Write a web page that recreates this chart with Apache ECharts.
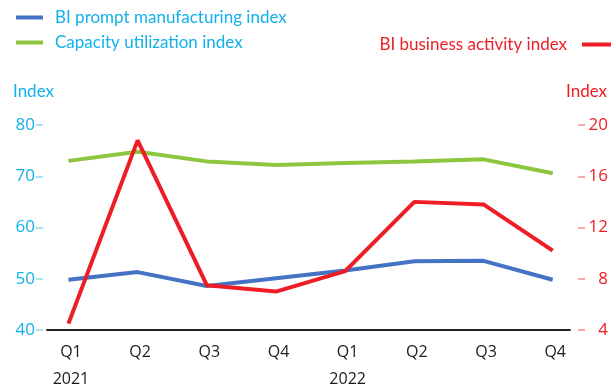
<!DOCTYPE html>
<html><head><meta charset="utf-8">
<script src="https://cdn.jsdelivr.net/npm/echarts@6/dist/echarts.min.js"></script>
<style>html,body{margin:0;padding:0;background:#fff}#c{width:616px;height:387px}</style>
</head><body><div id="c"></div>
<script>
const quarters = ['Q1','Q2','Q3','Q4','Q1','Q2','Q3','Q4'];
const years = {0:'2021', 4:'2022'};
const promptMfg = [49.8, 51.3, 48.6, 50.1, 51.6, 53.4, 53.5, 49.8];
const capacityUtil = [73.0, 74.8, 72.9, 72.2, 72.6, 72.9, 73.3, 70.6];
const businessActivity = [4.5, 18.8, 7.5, 7.0, 8.6, 14.0, 13.8, 10.2];
const leftTicks = [40, 50, 60, 70, 80];
const rightTicks = [4, 8, 12, 16, 20];

const CYAN = '#12b1ea', RED = '#ee1d25', BLUE = '#4472c4', GREEN = '#8cc63f';
const pts = arr => arr.map((v, i) => [i, v]);
const chart = echarts.init(document.getElementById('c'), null, {renderer: 'canvas'});
chart.setOption({
  animation: false,
  grid: {left: 47, right: 46, top: 125, bottom: 57, containLabel: false, outerBoundsMode: 'none'},
  legend: [
    {data: ['BI prompt manufacturing index', 'Capacity utilization index'], orient: 'vertical',
     left: 11, top: 4, itemWidth: 27, itemHeight: 4, itemGap: 8, icon: 'rect',
     textStyle: {color: CYAN, fontFamily: 'Lato', fontSize: 17, padding: [0,0,0,7]}},
    {data: ['BI business activity index'], left: 'right', right: 7, top: 31, align: 'right',
     itemWidth: 29, itemHeight: 4, icon: 'rect',
     textStyle: {color: RED, fontFamily: 'Lato', fontSize: 17, padding: [0,10,0,0]}}
  ],
  graphic: [
    {type: 'text', left: 13, top: 83, style: {text: 'Index', fill: CYAN, font: '17px Lato'}},
    {type: 'text', right: 9, top: 83, style: {text: 'Index', fill: RED, font: '17px Lato'}}
  ],
  xAxis: {
    type: 'value', min: -0.31, max: 7.25,
    axisLine: {show: true, onZero: false, lineStyle: {color: '#222', width: 2}},
    axisTick: {show: false}, splitLine: {show: false},
    axisLabel: {
      customValues: quarters.map((q, i) => i),
      formatter: v => quarters[v] + (years[v] ? '\n' + years[v] : ''),
      color: '#1a1a1a', fontFamily: 'Open Sans', fontSize: 16, lineHeight: 27, margin: 9,
      padding: [0, 0, 0, 5]
    }
  },
  yAxis: [
    {type: 'value', min: leftTicks[0], max: leftTicks[leftTicks.length-1], interval: 10, offset: 4,
     axisLine: {show: false, onZero: false}, splitLine: {show: false},
     axisTick: {show: true, inside: false, length: 7, lineStyle: {color: '#8fd6f4', width: 1.5}},
     axisLabel: {color: CYAN, fontFamily: 'Open Sans', fontSize: 17, margin: 8, padding: [0, 0, 6, 0]}},
    {type: 'value', min: rightTicks[0], max: rightTicks[rightTicks.length-1], interval: 4, offset: 8,
     position: 'right',
     axisLine: {show: false, onZero: false}, splitLine: {show: false},
     axisTick: {show: true, inside: false, length: 7, lineStyle: {color: '#f58a8a', width: 1.5}},
     axisLabel: {color: RED, fontFamily: 'Open Sans', fontSize: 17, margin: 30, align: 'right', padding: [0, 0, 6, 0]}}
  ],
  series: [
    {name: 'BI prompt manufacturing index', type: 'line', data: pts(promptMfg), yAxisIndex: 0,
     symbol: 'none', lineStyle: {color: BLUE, width: 4}, itemStyle: {color: BLUE}, z: 2},
    {name: 'Capacity utilization index', type: 'line', data: pts(capacityUtil), yAxisIndex: 0,
     symbol: 'none', lineStyle: {color: GREEN, width: 4}, itemStyle: {color: GREEN}, z: 2},
    {name: 'BI business activity index', type: 'line', data: pts(businessActivity), yAxisIndex: 1,
     symbol: 'none', lineStyle: {color: RED, width: 4}, itemStyle: {color: RED}, z: 3}
  ]
});
</script></body></html>
